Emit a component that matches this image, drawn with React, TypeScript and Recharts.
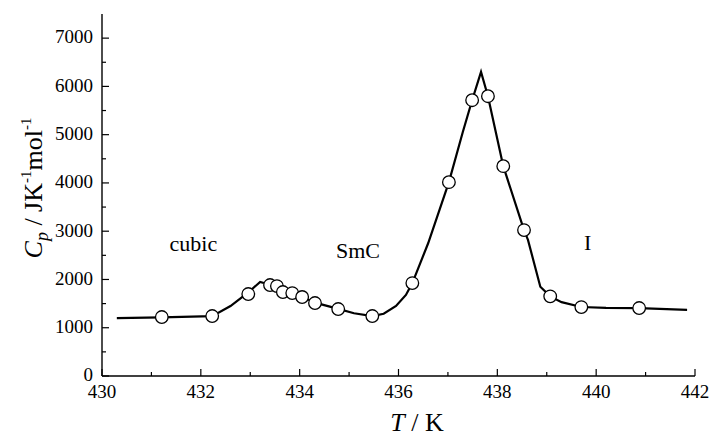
import React from 'react';
import { ComposedChart, Line, Scatter, XAxis, YAxis, ReferenceDot } from 'recharts';

// Measured points (T / K, Cp / J K^-1 mol^-1)
const pointT = [431.21, 432.23, 432.96, 433.4, 433.54, 433.66, 433.85, 434.05, 434.31, 434.78, 435.47, 436.28, 437.02, 437.49, 437.81, 438.12, 438.54, 439.07, 439.7, 440.87];
const pointCp = [1221, 1242, 1698, 1884, 1863, 1739, 1718, 1636, 1511, 1387, 1242, 1925, 4016, 5714, 5797, 4348, 3023, 1650, 1428, 1408];

// Guide curve
const curveT = [430.3, 431.2, 432.23, 432.6, 432.96, 433.2, 433.4, 433.6, 433.85, 434.05, 434.31, 434.78, 435.1, 435.47, 435.7, 435.95, 436.15, 436.28, 436.6, 437.02, 437.3, 437.49, 437.67, 437.81, 438.12, 438.54, 438.62, 438.87, 439.07, 439.3, 439.7, 440.2, 440.87, 441.84];
const curveCp = [1200, 1215, 1240, 1450, 1730, 1950, 1890, 1810, 1720, 1640, 1520, 1390, 1300, 1240, 1290, 1450, 1680, 1925, 2750, 4016, 5050, 5714, 6300, 5797, 4348, 3023, 2820, 1850, 1650, 1530, 1430, 1410, 1405, 1370];

const xTicks = [430, 431, 432, 433, 434, 435, 436, 437, 438, 439, 440, 441, 442];
const yTicks = [0, 500, 1000, 1500, 2000, 2500, 3000, 3500, 4000, 4500, 5000, 5500, 6000, 6500, 7000];

const phaseLabels = ['cubic', 'SmC', 'I'];
const phaseT = [431.85, 435.18, 439.83];
const phaseCp = [2756, 2611, 2776];

const points = pointT.map((T, i) => ({ T, cp: pointCp[i] }));
const curve = curveT.map((T, i) => ({ T, cp: curveCp[i] }));

const FONT = '"Liberation Serif", "DejaVu Serif", serif';
const MAJOR = 7;
const MINOR = 4;

const BottomTick = (p: any) => {
  const v = p.payload.value;
  const major = v % 2 === 0;
  return (
    <g>
      <line x1={p.x} x2={p.x} y1={p.y} y2={p.y - (major ? MAJOR : MINOR)} stroke="#000" strokeWidth={1.2} />
      {major && (
        <text x={p.x} y={p.y + 22} textAnchor="middle" fontFamily={FONT} fontSize={19} fill="#000">{v}</text>
      )}
    </g>
  );
};

const TopTick = (p: any) => {
  const major = p.payload.value % 2 === 0;
  return <line x1={p.x} x2={p.x} y1={p.y} y2={p.y + (major ? MAJOR : MINOR)} stroke="#000" strokeWidth={1.2} />;
};

const LeftTick = (p: any) => {
  const v = p.payload.value;
  const major = v % 1000 === 0;
  return (
    <g>
      <line x1={p.x} x2={p.x + (major ? MAJOR : MINOR)} y1={p.y} y2={p.y} stroke="#000" strokeWidth={1.2} />
      {major && (
        <text x={p.x - 9} y={p.y} dy="0.28em" textAnchor="end" fontFamily={FONT} fontSize={19} fill="#000">{v}</text>
      )}
    </g>
  );
};

const RightTick = (p: any) => {
  const major = p.payload.value % 1000 === 0;
  return <line x1={p.x} x2={p.x - (major ? MAJOR : MINOR)} y1={p.y} y2={p.y} stroke="#000" strokeWidth={1.2} />;
};

const YLabel = () => (
  <text transform="translate(42,188) rotate(-90)" textAnchor="middle" fontFamily={FONT} fontSize={26} fill="#000">
    <tspan fontStyle="italic">C</tspan>
    <tspan fontStyle="italic" fontSize={18} dy={6}>p</tspan>
    <tspan dy={-6}> / JK</tspan>
    <tspan fontSize={15} dy={-11}>-1</tspan>
    <tspan dy={11}>mol</tspan>
    <tspan fontSize={15} dy={-11}>-1</tspan>
  </text>
);

const XLabel = () => (
  <text x={417} y={431} textAnchor="middle" fontFamily={FONT} fontSize={26} fill="#000">
    <tspan fontStyle="italic">T</tspan>
    <tspan> / K</tspan>
  </text>
);

const Circle = (p: any) => (
  <circle cx={p.cx} cy={p.cy} r={6.3} fill="#fff" stroke="#000" strokeWidth={1.3} />
);

export default function App() {
  return (
    <div style={{ position: 'fixed', left: 0, top: 0, width: 710, height: 439, background: '#fff' }}>
      <ComposedChart width={710} height={439} margin={{ top: 14, right: 15, bottom: 0, left: 0 }}>
        <XAxis
          xAxisId="b"
          dataKey="T"
          type="number"
          domain={[430, 442]}
          allowDataOverflow
          ticks={xTicks}
          interval={0}
          height={63}
          tickSize={0}
          tickMargin={0}
          tickLine={false}
          axisLine={{ stroke: '#000', strokeWidth: 1.4 }}
          tick={(p: any) => <BottomTick {...p} />}
          label={{ content: () => <XLabel /> }}
        />
        <XAxis
          xAxisId="t"
          orientation="top"
          dataKey="T"
          type="number"
          domain={[430, 442]}
          allowDataOverflow
          ticks={xTicks}
          interval={0}
          height={0}
          tickSize={0}
          tickMargin={0}
          tickLine={false}
          axisLine={{ stroke: '#000', strokeWidth: 1.4 }}
          tick={(p: any) => <TopTick {...p} />}
        />
        <YAxis
          yAxisId="l"
          type="number"
          domain={[0, 7500]}
          allowDataOverflow
          ticks={yTicks}
          interval={0}
          width={102}
          tickSize={0}
          tickMargin={0}
          tickLine={false}
          axisLine={{ stroke: '#000', strokeWidth: 1.4 }}
          tick={(p: any) => <LeftTick {...p} />}
          label={{ content: () => <YLabel /> }}
        />
        <YAxis
          yAxisId="r"
          orientation="right"
          type="number"
          domain={[0, 7500]}
          allowDataOverflow
          ticks={yTicks}
          interval={0}
          width={0}
          tickSize={0}
          tickMargin={0}
          tickLine={false}
          axisLine={{ stroke: '#000', strokeWidth: 1.4 }}
          tick={(p: any) => <RightTick {...p} />}
        />
        <Line
          xAxisId="b"
          yAxisId="l"
          data={curve}
          dataKey="cp"
          type="linear"
          stroke="#000"
          strokeWidth={2.2}
          dot={false}
          activeDot={false}
          isAnimationActive={false}
        />
        <Scatter
          xAxisId="b"
          yAxisId="l"
          data={points}
          dataKey="cp"
          shape={(p: any) => <Circle {...p} />}
          isAnimationActive={false}
        />
        {phaseLabels.map((t, i) => (
          <ReferenceDot
            key={t}
            xAxisId="b"
            yAxisId="l"
            x={phaseT[i]}
            y={phaseCp[i]}
            r={0}
            fill="none"
            stroke="none"
            label={{ value: t, position: 'center', fill: '#000', fontSize: 22, fontFamily: FONT }}
          />
        ))}
      </ComposedChart>
    </div>
  );
}
